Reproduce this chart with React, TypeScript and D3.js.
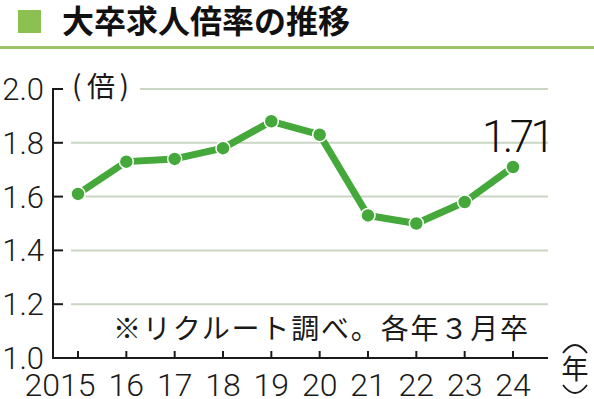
import React from "react";
import * as d3 from "d3";

const years = ["2015", "16", "17", "18", "19", "20", "21", "22", "23", "24"];
const values = [1.61, 1.73, 1.74, 1.78, 1.88, 1.83, 1.53, 1.5, 1.58, 1.71];
const yTicks = [1.0, 1.2, 1.4, 1.6, 1.8, 2.0];
const title = "大卒求人倍率の推移";
const note = "※リクルート調べ。各年３月卒";
const lastLabel = "1.71";
const yUnit = "倍";
const xUnit = "年";

export default function App() {
  const W = 594, H = 399;
  const x = d3.scalePoint<string>().domain(years).range([78, 513]);
  const y = d3.scaleLinear().domain([1.0, 2.0]).range([358, 89]);
  const line = d3.line<number>().x((_, i) => x(years[i])!).y((d) => y(d));
  const font = "Roboto, 'Liberation Sans', Arial, sans-serif";
  const cjk = "'Noto Sans CJK JP', sans-serif";
  const green = "#45a83a";
  const ink = "#1a1a1a";
  return (
    <svg width={W} height={H} style={{ position: "absolute", left: 0, top: 0, background: "#fff" }}>
      <rect x={18} y={10} width={23} height={23} fill="#8cc152" />
      <text x={62} y={33} fontFamily={cjk} fontWeight="bold" fontSize={32} fill="#111" textLength={288}>{title}</text>
      <rect x={0} y={46} width={W} height={3} fill="#9cc46a" />
      {yTicks.filter((t) => t > 1.0).map((t) => (
        <line key={"g" + t} x1={t === 2.0 ? 140 : 71} x2={548} y1={y(t)} y2={y(t)} stroke="#c9d6c3" strokeWidth={2} />
      ))}
      {yTicks.map((t) => (
        <g key={"t" + t}>
          <line x1={53} x2={63} y1={y(t)} y2={y(t)} stroke={ink} strokeWidth={2} />
          <text x={44} y={y(t) + 11} textAnchor="end" fontFamily={font} fontWeight={300} fontSize={31} fill={ink}>{t.toFixed(1)}</text>
        </g>
      ))}
      <line x1={53} x2={53} y1={y(2.0) - 1} y2={y(1.0) + 1} stroke={ink} strokeWidth={2} />
      <line x1={52} x2={548} y1={y(1.0)} y2={y(1.0)} stroke={ink} strokeWidth={2} />
      {years.map((yr, i) => (
        <g key={yr}>
          <line x1={x(yr)} x2={x(yr)} y1={y(1.0)} y2={y(1.0) - 7} stroke={ink} strokeWidth={2} />
          <text x={i === 0 ? x(yr)! + 17.5 : x(yr)} y={396} textAnchor={i === 0 ? "end" : "middle"} fontFamily={font} fontWeight={300} fontSize={32} fill={ink}>{yr}</text>
        </g>
      ))}
      <text x={72} y={96} fontFamily={cjk} fontSize={28} fill={ink}>(</text>
      <text x={101} y={96.5} textAnchor="middle" fontFamily={cjk} fontSize={28} fill={ink}>{yUnit}</text>
      <text x={129} y={96} textAnchor="end" fontFamily={cjk} fontSize={28} fill={ink}>)</text>
      <text x={113} y={339} fontFamily={cjk} fontSize={28} fill={ink} textLength={415}>{note}</text>
      <path d="M563,353 Q575,337 587,353" fill="none" stroke={ink} strokeWidth={1.8} />
      <text x={575} y={379} textAnchor="middle" fontFamily={cjk} fontSize={27} fill={ink}>{xUnit}</text>
      <path d="M563,385 Q575,401 587,385" fill="none" stroke={ink} strokeWidth={1.8} />
      <path d={line(values) ?? ""} fill="none" stroke={green} strokeWidth={7} strokeLinejoin="round" />
      {values.map((v, i) => (
        <circle key={i} cx={x(years[i])} cy={y(v)} r={7} fill={green} stroke="#fff" strokeWidth={1.5} />
      ))}
      <text x={482} y={152} fontFamily={font} fontWeight={300} fontSize={44} fill="#111" textLength={73}>{lastLabel}</text>
    </svg>
  );
}
